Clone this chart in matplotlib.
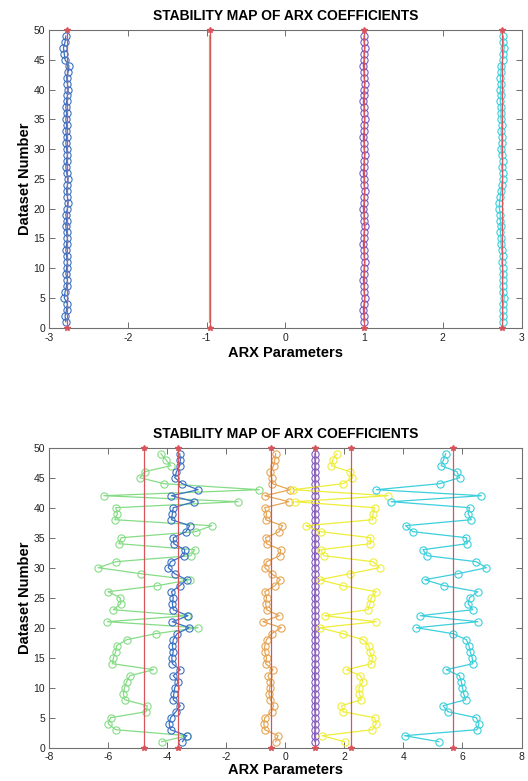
import matplotlib
matplotlib.use("Agg")
import matplotlib.pyplot as plt
import numpy as np

plt.rcParams['font.family'] = ['Liberation Sans', 'DejaVu Sans']
plt.rcParams['axes.unicode_minus'] = False

# ---------------- data ----------------
datasets = list(range(1, 50))

# Top panel (4 parameters, very stable)
top_blue = [-2.79, -2.80, -2.78, -2.77, -2.81, -2.80, -2.78, -2.77, -2.79, -2.78,
            -2.77, -2.78, -2.79, -2.78, -2.77, -2.78, -2.79, -2.78, -2.79, -2.77,
            -2.76, -2.77, -2.78, -2.77, -2.76, -2.78, -2.79, -2.78, -2.77, -2.78,
            -2.79, -2.78, -2.79, -2.78, -2.79, -2.78, -2.79, -2.78, -2.77, -2.76,
            -2.77, -2.78, -2.76, -2.75, -2.80, -2.81, -2.82, -2.80, -2.79]
top_green = [-0.96] * 49
top_purple = [1.00, 1.00, 0.99, 1.00, 1.01, 1.00, 1.00, 0.99, 1.00, 1.00,
              1.01, 1.00, 1.00, 0.99, 1.00, 1.00, 1.01, 1.00, 1.00, 0.99,
              1.00, 1.00, 1.01, 1.00, 1.00, 0.99, 1.00, 1.00, 1.01, 1.00,
              1.00, 0.99, 1.00, 1.00, 1.01, 1.00, 1.00, 0.99, 1.00, 1.00,
              1.01, 1.00, 1.00, 0.99, 1.00, 1.00, 1.01, 1.00, 1.00]
top_cyan = [2.76, 2.77, 2.76, 2.77, 2.78, 2.77, 2.76, 2.76, 2.77, 2.76,
            2.75, 2.76, 2.75, 2.74, 2.74, 2.73, 2.74, 2.73, 2.73, 2.72,
            2.72, 2.73, 2.74, 2.75, 2.76, 2.76, 2.75, 2.76, 2.75, 2.74,
            2.75, 2.75, 2.74, 2.75, 2.74, 2.74, 2.74, 2.73, 2.74, 2.73,
            2.74, 2.73, 2.74, 2.74, 2.76, 2.77, 2.78, 2.77, 2.77]
top_means = [-2.78, -0.96, 1.00, 2.755]

# Bottom panel (6 parameters)
bot_green = [-4.19, -3.32, -5.75, -6.01, -5.92, -4.72, -4.68, -5.45, -5.49, -5.45,
             -5.38, -5.27, -4.47, -5.86, -5.83, -5.75, -5.72, -5.38, -4.40, -2.96,
             -6.03, -3.32, -5.83, -5.58, -5.60, -6.01, -4.34, -3.23, -4.90, -6.34,
             -5.75, -3.21, -3.07, -5.64, -5.56, -3.04, -2.50, -5.78, -5.69, -5.75,
             -1.60, -6.15, -0.88, -4.11, -4.93, -4.77, -3.88, -4.05, -4.22]
bot_blue = [-3.49, -3.35, -3.89, -3.94, -3.89, -3.71, -3.56, -3.80, -3.78, -3.75,
            -3.63, -3.80, -3.56, -3.83, -3.85, -3.80, -3.83, -3.80, -3.67, -3.26,
            -3.83, -3.30, -3.80, -3.83, -3.80, -3.86, -3.58, -3.35, -3.75, -3.97,
            -3.89, -3.44, -3.41, -3.78, -3.80, -3.37, -3.24, -3.86, -3.83, -3.80,
            -3.09, -3.86, -2.96, -3.49, -3.75, -3.69, -3.58, -3.56, -3.58]
bot_orange = [-0.33, -0.25, -0.70, -0.73, -0.70, -0.47, -0.40, -0.51, -0.56, -0.53,
              -0.51, -0.59, -0.42, -0.67, -0.64, -0.70, -0.70, -0.64, -0.47, -0.14,
              -0.76, -0.21, -0.64, -0.67, -0.64, -0.70, -0.36, -0.17, -0.47, -0.70,
              -0.64, -0.19, -0.16, -0.64, -0.67, -0.21, -0.10, -0.67, -0.64, -0.70,
              0.12, -0.70, 0.17, -0.44, -0.47, -0.51, -0.40, -0.36, -0.33]
bot_purple = [1.00, 0.99, 1.00, 1.00, 1.01, 1.00, 0.99, 1.00, 1.00, 1.00,
              1.00, 0.99, 1.00, 1.00, 1.01, 1.00, 1.00, 1.00, 0.99, 1.00,
              1.00, 1.01, 1.00, 1.00, 0.99, 1.00, 1.00, 1.00, 1.01, 1.00,
              1.00, 0.99, 1.00, 1.00, 1.00, 1.01, 1.00, 1.00, 0.99, 1.00,
              1.00, 1.01, 1.00, 1.00, 1.00, 0.99, 1.00, 1.00, 1.00]
bot_yellow = [2.01, 1.25, 2.95, 3.08, 3.02, 1.95, 1.90, 2.57, 2.51, 2.49,
              2.63, 2.54, 2.07, 2.91, 2.95, 2.86, 2.83, 2.63, 1.95, 1.16,
              3.08, 1.33, 2.80, 2.86, 2.91, 3.08, 1.95, 1.16, 2.18, 3.19,
              2.97, 1.30, 1.20, 2.88, 2.88, 1.20, 0.69, 2.95, 2.97, 3.02,
              0.32, 3.48, 0.26, 1.95, 2.27, 2.18, 1.56, 1.61, 1.75]
bot_cyan = [5.20, 4.04, 6.49, 6.56, 6.47, 5.51, 5.34, 6.11, 6.04, 6.00,
            5.96, 5.90, 5.45, 6.35, 6.33, 6.26, 6.22, 6.13, 5.68, 4.44,
            6.52, 4.57, 6.35, 6.19, 6.24, 6.52, 5.39, 4.72, 5.85, 6.81,
            6.47, 4.80, 4.66, 6.16, 6.13, 4.32, 4.07, 6.30, 6.19, 6.24,
            3.59, 6.64, 3.08, 5.23, 5.90, 5.81, 5.28, 5.36, 5.43]
bot_means = [-4.79, -3.63, -0.50, 0.99, 2.23, 5.68]

title_text = "STABILITY MAP OF ARX COEFFICIENTS"
xlabel_text = "ARX Parameters"
ylabel_text = "Dataset Number"

# ---------------- style ----------------
c_green = '#86dc86'
c_blue = '#3a72c4'
c_orange = '#e6a556'
c_purple = '#7a5cc4'
c_yellow = '#eeee3a'
c_cyan = '#3ccfdc'
c_red = '#d8545a'
c_axis = '#707070'

W, H = 528, 781
fig = plt.figure(figsize=(W / 100, H / 100), dpi=100)
fig.patch.set_facecolor('white')

left = 49.3 / W
width = (521.5 - 49.3) / W
ax1 = fig.add_axes([left, 1 - 327.7 / H, width, (327.7 - 30) / H])
ax2 = fig.add_axes([left, 1 - 747.7 / H, width, (747.7 - 447.7) / H])


def style_axes(ax, xlim, xticks, xpad, xlabelpad):
    ax.set_xlim(*xlim)
    ax.set_ylim(0, 50)
    ax.set_xticks(xticks)
    ax.set_yticks(range(0, 51, 5))
    ax.tick_params(direction='in', length=4, width=0.7, colors=c_axis,
                   labelcolor='#222222', labelsize=7.5, top=True, right=True, pad=3)
    ax.tick_params(axis='x', pad=xpad)
    for s in ax.spines.values():
        s.set_color(c_axis)
        s.set_linewidth(0.8)
    ax.set_title(title_text, fontsize=10, fontweight='bold', pad=7)
    ax.set_xlabel(xlabel_text, fontsize=10.5, fontweight='bold', labelpad=xlabelpad)
    ax.set_ylabel(ylabel_text, fontsize=10.5, fontweight='bold', labelpad=1)


def series(ax, vals, color, ms=5.2, marker='o', lw=0.9):
    ax.plot(vals, datasets, color=color, marker=marker, markersize=ms,
            markerfacecolor='none', markeredgewidth=0.8, linewidth=lw, zorder=2)


def mean_lines(ax, means):
    for m in means:
        ax.plot([m, m], [0, 50], color=c_red, linewidth=0.9, marker='*',
                markersize=4, clip_on=False, zorder=3)


# Top panel
series(ax1, top_blue, c_blue)
ax1.plot(top_green, datasets, color='#9acd32', linewidth=1.6, zorder=2)
series(ax1, top_purple, c_purple)
series(ax1, top_cyan, c_cyan)
mean_lines(ax1, top_means)
style_axes(ax1, (-3, 3), range(-3, 4), 4, 2)

# Bottom panel
series(ax2, bot_green, c_green)
series(ax2, bot_blue, c_blue)
series(ax2, bot_orange, c_orange)
series(ax2, bot_purple, c_purple)
series(ax2, bot_yellow, c_yellow)
series(ax2, bot_cyan, c_cyan)
mean_lines(ax2, bot_means)
style_axes(ax2, (-8, 8), range(-8, 9, 2), 3, 1)

fig.savefig('out.png', dpi=100, facecolor='white')
